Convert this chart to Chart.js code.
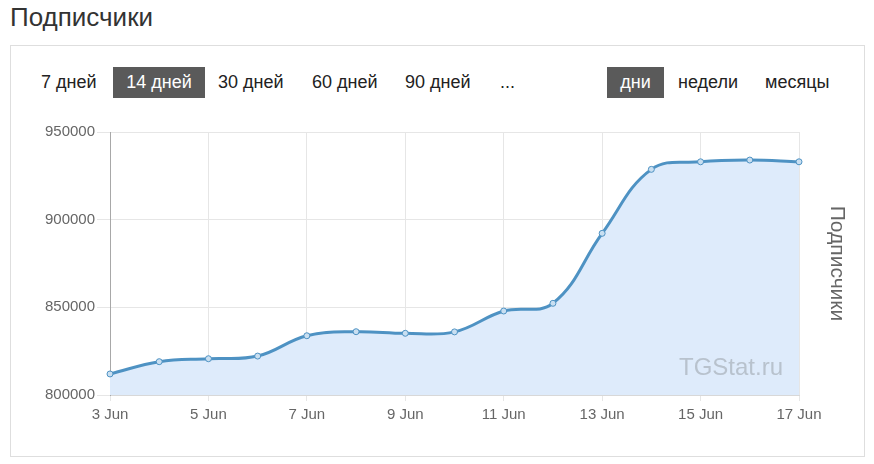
<!DOCTYPE html>
<html>
<head>
<meta charset="utf-8">
<script src="https://cdn.jsdelivr.net/npm/chart.js@4/dist/chart.umd.min.js"></script>
<style>
  body { margin: 0; background: #fff; font-family: "Liberation Sans", Arial, sans-serif; }
  #page { position: relative; width: 874px; height: 464px; overflow: hidden; }
  #title { position: absolute; left: 10px; top: 0px; font-size: 26px; line-height: 34px; color: #333; }
  #box { position: absolute; left: 10px; top: 45px; width: 855px; height: 412px; box-sizing: border-box; border: 1px solid #dedede; }
  .btn { position: absolute; top: 67px; height: 31px; line-height: 31px; font-size: 18px; color: #222; white-space: nowrap; }
  .btn.on { background: #5a5a5a; color: #fff; text-align: center; }
  #wrap { position: absolute; left: 0; top: 0; width: 874px; height: 464px; }
  #mark { position: absolute; right: 91px; top: 353px; font-size: 24px; color: #b8c2cd; }
</style>
</head>
<body>
<div id="page">
  <div id="title">Подписчики</div>
  <div id="box"></div>
  <span class="btn" style="left:41px">7 дней</span>
  <span class="btn on" style="left:113px;width:92px">14 дней</span>
  <span class="btn" style="left:218px">30 дней</span>
  <span class="btn" style="left:312px">60 дней</span>
  <span class="btn" style="left:405px">90 дней</span>
  <span class="btn" style="left:500px">...</span>
  <span class="btn on" style="left:607px;width:57px">дни</span>
  <span class="btn" style="left:678px">недели</span>
  <span class="btn" style="left:765px">месяцы</span>
  <div id="wrap"><canvas id="subsChart" width="874" height="464"></canvas></div>
  <div id="mark">TGStat.ru</div>
</div>
<script>
  // данные с графика
  var days = ['3 Jun', '4 Jun', '5 Jun', '6 Jun', '7 Jun', '8 Jun', '9 Jun', '10 Jun',
              '11 Jun', '12 Jun', '13 Jun', '14 Jun', '15 Jun', '16 Jun', '17 Jun'];
  var subscribers = [812000, 819000, 820700, 822200, 833800, 836100, 835200, 836000,
                     847900, 852300, 892200, 928700, 933000, 934000, 933000];
  var yTicks = [800000, 850000, 900000, 950000];

  Chart.defaults.font.family = '"Liberation Sans", Arial, sans-serif';

  var ctx = document.getElementById('subsChart').getContext('2d');
  var chart = new Chart(ctx, {
    type: 'line',
    data: {
      labels: days,
      datasets: [{
        label: 'Подписчики',
        data: subscribers,
        borderColor: '#4e92c3',
        borderWidth: 3,
        backgroundColor: '#deebfb',
        fill: 'start',
        tension: 0.4,
        pointRadius: 3,
        pointBorderWidth: 1,
        pointBorderColor: '#4e92c3',
        pointBackgroundColor: '#c9dff1'
      }]
    },
    options: {
      responsive: false,
      animation: false,
      layout: { padding: { top: 132, left: 0, right: 0, bottom: 0 } },
      plugins: { legend: { display: false }, tooltip: { enabled: false } },
      scales: {
        x: {
          afterFit: function(s) { s.height = 69; },
          grid: {
            color: function(c) { return c.index % 2 === 0 ? '#e6e6e6' : 'transparent'; },
            tickLength: 6
          },
          border: { color: '#d8d8d8' },
          ticks: {
            autoSkip: false,
            maxRotation: 0,
            padding: 5,
            color: '#666',
            font: { size: 15 },
            callback: function(v, i) { return i % 2 === 0 ? days[i] : ''; }
          }
        },
        y: {
          min: yTicks[0],
          max: yTicks[yTicks.length - 1],
          afterFit: function(s) { s.width = 110; },
          afterBuildTicks: function(s) { s.ticks = yTicks.map(function(v) { return { value: v }; }); },
          grid: { color: '#e6e6e6', tickLength: 13 },
          border: { color: '#a8a8a8' },
          ticks: { padding: 2, color: '#666', font: { size: 15 },
                   callback: function(v) { return String(v); } }
        },
        y1: {
          position: 'right',
          afterFit: function(s) { s.width = 75; },
          grid: { display: false },
          border: { display: false },
          ticks: { display: false },
          title: { display: true, text: 'Подписчики', color: '#666',
                   font: { size: 21 }, padding: { top: 25, bottom: 0 } }
        }
      }
    }
  });
</script>
</body>
</html>
